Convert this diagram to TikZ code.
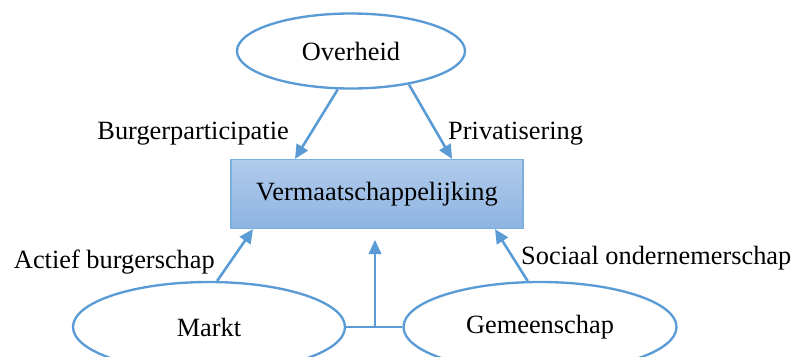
\documentclass[tikz,border=0pt]{standalone}
\usepackage{fontspec}
\setmainfont{Liberation Serif}
\usetikzlibrary{shapes.geometric,arrows.meta,calc}
\definecolor{lijnblauw}{HTML}{5B9BD5}
\definecolor{vlakboven}{HTML}{B2CCEB}
\definecolor{vlakonder}{HTML}{8DB3E2}
\tikzset{
  tekst/.style={font=\fontsize{22.5}{27}\selectfont, inner sep=0pt},
  veld/.style={ellipse, draw=lijnblauw, line width=2pt, tekst},
  pijl/.style={-{Triangle[length=12pt,width=11pt]}, line width=2.2pt, lijnblauw},
}
\begin{document}
\begin{tikzpicture}[x=0.03cm, y=-0.03cm]
\useasboundingbox (0,0) rectangle (793,356);
\clip (0,0) rectangle (793,356);
\node[veld, minimum width=6.84cm, minimum height=2.25cm] (overheid) at (351,51) {Overheid};
\node[tekst, draw=lijnblauw!80, line width=1pt, top color=vlakboven, bottom color=vlakonder,
  minimum width=8.76cm, minimum height=2.07cm] (kern) at (377,194) {Vermaatschappelijking};
\node[veld, minimum width=8.16cm, minimum height=2.7cm] (markt) at (209,327) {Markt};
\node[veld, minimum width=8.19cm, minimum height=2.7cm] (gemeenschap) at (540,327) {Gemeenschap};
\coordinate (midden) at (375,327);
\coordinate (pijlpunt) at (375,240);
% labels bij de pijlen
\node[tekst, anchor=east] (burger) at (289,134) {Burgerparticipatie};
\node[tekst, anchor=west] (privaat) at (448,134) {Privatisering};
\node[tekst, anchor=east] (actief) at (215,262) {Actief burgerschap};
\node[tekst, anchor=west] (sociaal) at (521,258) {Sociaal ondernemerschap};
% pijlen
\draw[pijl] (overheid.251) -- ($(kern.north)+(-82,0)$);
\draw[pijl] (overheid.330) -- ($(kern.north)+(75,0)$);
\draw[pijl] (markt.80) -- ($(kern.south)+(-124,0)$);
\draw[pijl] (gemeenschap.105) -- ($(kern.south)+(118,0)$);
\draw[lijnblauw, line width=2pt] (markt.east) -- (gemeenschap.west);
\draw[lijnblauw, line width=1pt, -{Triangle[length=12pt,width=11pt]}] (midden) -- (pijlpunt);
\end{tikzpicture}
\end{document}
